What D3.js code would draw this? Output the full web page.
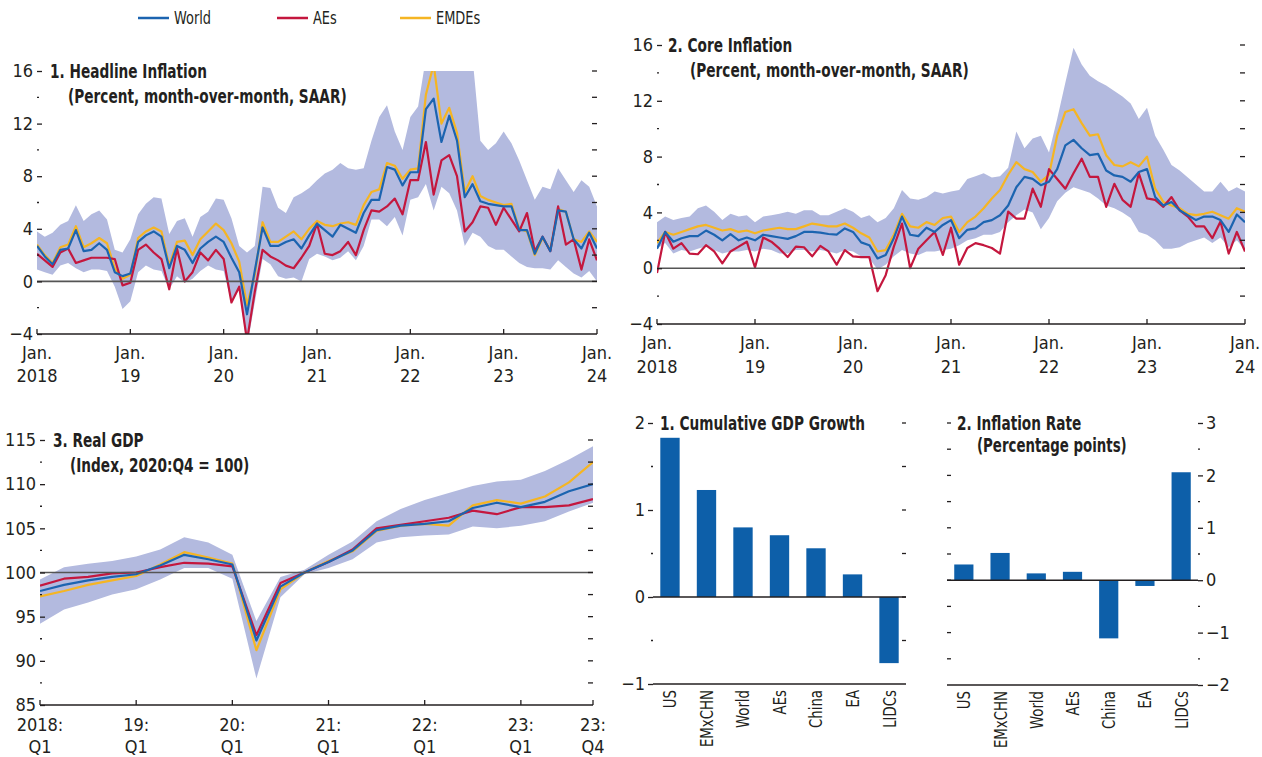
<!DOCTYPE html>
<html>
<head>
<meta charset="utf-8">
<script src="https://cdn.jsdelivr.net/npm/d3@7"></script>
<style>
  body { margin: 0; background: #fff; }
  svg text {
    font-family: "Liberation Sans Narrow", "Arial Narrow", "DejaVu Sans Condensed", sans-serif;
    font-stretch: condensed;
    fill: #231f20;
  }
</style>
</head>
<body>
<svg id="chart" width="1262" height="757"></svg>
<script>
// ---------- data ----------
const seriesNames = ["World", "AEs", "EMDEs"];
const seriesColors = { World: "#1c64b0", AEs: "#c4173e", EMDEs: "#f5b523" };
const bandColor = "#b3badf";
const barColor = "#0d5fa9";

// monthly, Jan. 2018 - Jan. 2024
const monthTickTop = ["Jan.", "Jan.", "Jan.", "Jan.", "Jan.", "Jan.", "Jan."];
const monthTickBottom = ["2018", "19", "20", "21", "22", "23", "24"];

const headlineWorld = [
  2.7, 1.9, 1.3, 2.4, 2.5, 3.9, 2.3, 2.4, 2.9, 2.4, 0.7, 0.4,
  0.6, 3.0, 3.5, 3.8, 3.4, 1.0, 2.7, 2.4, 1.4, 2.5, 3.0, 3.4,
  3.0, 1.8, 0.7, -2.5, 0.8, 4.1, 2.7, 2.7, 3.0, 3.2, 2.5, 3.5,
  4.4, 3.9, 3.4, 4.3, 4.0, 3.7, 5.2, 6.2, 6.2, 8.7, 8.5, 7.3,
  8.3, 8.3, 13.1, 13.9, 10.6, 12.6, 10.7, 6.4, 7.4, 6.1, 5.9, 5.8,
  5.7, 5.7, 3.9, 3.9, 2.1, 3.4, 2.3, 5.4, 5.3, 3.2, 2.5, 3.7,
  2.5,
];
const headlineAEs = [
  2.1, 1.6, 1.1, 2.2, 2.5, 1.4, 1.6, 1.8, 1.8, 1.8, 1.7, -0.3,
  -0.1, 2.4, 2.8, 2.2, 1.7, -0.6, 2.5, 0.0, 0.7, 2.2, 1.6, 2.4,
  1.7, -1.6, -0.4, -4.5, -0.8, 2.4, 1.9, 1.6, 1.2, 1.0, 1.8, 2.7,
  4.4, 2.1, 2.0, 2.3, 3.0, 2.0, 3.9, 5.4, 5.3, 5.7, 6.3, 5.1,
  7.7, 7.7, 10.6, 6.6, 9.2, 9.6, 8.0, 3.8, 4.5, 5.7, 5.6, 4.3,
  5.6, 4.7, 3.8, 5.2, 2.3, 3.4, 2.3, 5.7, 2.8, 3.2, 0.9, 3.2,
  1.6,
];
const headlineEMDEs = [
  2.8, 2.0, 1.4, 2.6, 2.8, 4.2, 2.6, 2.9, 3.3, 2.9, 1.0, 0.2,
  0.5, 3.3, 3.8, 4.1, 3.8, 1.2, 3.0, 3.1, 2.0, 3.2, 3.8, 4.4,
  3.9, 2.9, 1.5, -1.8, 0.5, 4.5, 3.0, 3.0, 3.4, 3.8, 3.2, 4.0,
  4.6, 4.3, 4.2, 4.4, 4.5, 4.3, 5.8, 6.8, 7.0, 9.0, 8.8, 7.8,
  8.5, 8.6, 14.2, 16.5, 12.0, 13.2, 11.3, 6.8, 8.0, 6.5, 6.2, 6.0,
  5.8, 5.9, 4.0, 3.8, 2.0, 3.3, 2.4, 5.5, 5.3, 3.2, 3.0, 3.8,
  3.0,
];
const headlineHigh = [
  3.8, 3.4, 3.7, 4.3, 4.6, 5.8, 4.6, 5.1, 5.4, 4.7, 2.4, 2.2,
  3.2, 5.1, 5.9, 6.4, 6.3, 3.6, 4.6, 4.8, 3.4, 4.9, 5.3, 6.3,
  6.2, 4.8, 2.7, 2.2, 2.7, 7.2, 7.1, 5.6, 5.2, 6.4, 6.7, 7.1,
  7.7, 8.2, 8.5, 9.0, 8.6, 8.5, 8.6, 10.7, 12.5, 13.4, 11.4, 10.0,
  12.5, 13.3, 17, 17, 17, 17, 17, 17, 17, 10.7, 10.0, 10.5,
  11.4, 10.5, 9.2, 7.7, 6.2, 7.2, 7.0, 8.6, 7.7, 6.8, 7.7, 7.2,
  5.7,
];
const headlineLow = [
  0.9, 0.7, 0.5, 1.2, 1.4, 1.0, 0.7, 0.9, 0.9, 0.8, -0.4, -2.1,
  -1.5, 0.7, 1.2, 0.9, 0.8, -0.6, 0.4, -0.1, 0.2, 0.8, 1.2, 0.9,
  0.8, -1.6, -0.6, -5, -1.6, 1.7, 1.3, 0.4, 0.2, 0.3, 0.0, 1.7,
  2.1, 1.9, 1.6, 1.8, 2.3, 1.6, 2.7, 4.7, 4.7, 4.2, 4.9, 3.5,
  6.2, 6.4, 7.4, 5.4, 7.2, 6.7, 5.4, 2.7, 3.7, 3.4, 2.7, 2.4,
  2.4, 1.9, 1.4, 1.1, 1.0, 1.0, 0.9, 1.6, 1.1, 0.6, 0.3, 0.8,
  0.0,
];

const coreWorld = [
  1.4, 2.6, 1.9, 2.15, 2.3, 2.3, 2.7, 2.4, 2.0, 2.45, 2.0, 2.2,
  2.0, 2.4, 2.3, 2.2, 2.1, 2.3, 2.6, 2.6, 2.55, 2.45, 2.4, 2.85,
  2.6, 1.85, 1.65, 0.7, 0.95, 2.15, 3.7, 2.4, 2.3, 2.9, 2.6, 3.1,
  3.45, 2.15, 2.75, 2.85, 3.3, 3.45, 3.8, 4.5, 5.8, 6.55, 6.4, 5.95,
  6.2, 7.1, 8.8, 9.2, 8.6, 8.1, 8.2, 7.0, 6.65, 6.55, 6.2, 6.9,
  7.1, 5.1, 4.5, 4.75, 4.15, 3.8, 3.45, 3.7, 3.7, 3.45, 2.6, 3.85,
  3.3,
];
const coreAEs = [
  -0.35, 2.6, 1.4, 1.8, 1.05, 1.0, 1.65, 1.2, 0.35, 1.2, 1.55, 1.9,
  0.05, 2.2, 1.9, 1.4, 0.8, 1.55, 1.5, 0.85, 1.6, 1.2, 0.25, 1.3,
  0.85, 0.8, 0.8, -1.65, -0.5, 1.55, 3.2, 0.0, 1.4, 2.0, 2.6, 0.95,
  2.9, 0.25, 1.45, 1.8, 1.65, 1.45, 1.05, 4.05, 3.55, 3.55, 5.7, 4.4,
  7.1, 6.4, 5.7, 6.8, 7.85, 6.55, 6.55, 4.4, 6.05, 4.9, 4.4, 6.8,
  5.0, 4.9, 4.4, 5.1, 4.15, 3.7, 3.0, 3.0, 2.15, 3.35, 1.05, 2.6,
  1.2,
];
const coreEMDEs = [
  1.8, 2.6, 2.4, 2.6, 2.8, 3.0, 3.1, 2.9, 2.7, 2.8, 2.6, 2.7,
  2.5, 2.7, 2.8, 2.9, 2.8, 2.8, 3.0, 3.2, 3.1, 3.0, 3.0, 3.2,
  2.9, 2.5, 2.2, 1.2, 1.3, 2.4, 3.9, 3.0, 2.9, 3.3, 3.1, 3.6,
  3.7, 2.6, 3.3, 3.7, 4.3, 5.0, 5.6, 6.7, 7.6, 7.1, 6.9, 6.2,
  6.7, 9.5, 11.2, 11.4, 10.4, 9.5, 9.6, 8.1, 7.4, 7.3, 7.6, 7.3,
  8.0, 5.7, 4.75, 4.5, 4.3, 3.9, 3.8, 3.9, 4.05, 3.8, 3.55, 4.3,
  4.05,
];
const coreHigh = [
  3.3, 3.7, 3.45, 3.6, 3.7, 4.3, 4.5, 4.05, 3.45, 3.9, 3.7, 3.8,
  3.3, 3.7, 3.8, 3.9, 4.05, 3.9, 4.15, 4.15, 3.8, 3.8, 4.05, 4.3,
  4.05, 3.6, 3.8, 3.3, 3.6, 4.3, 5.6, 5.0, 4.9, 5.1, 5.5, 5.35,
  5.5, 5.6, 6.4, 6.6, 6.8, 6.5, 6.6, 7.2, 9.8, 8.6, 9.3, 9.5,
  8.3, 10.7, 13.3, 15.8, 14.6, 13.8, 13.4, 13.1, 12.7, 12.3, 11.8, 10.7,
  11.5, 9.5, 8.5, 7.4, 7.0, 6.5, 6.0, 5.5, 5.5, 6.2, 5.5, 5.8,
  5.5,
];
const coreLow = [
  1.4, 1.8, 1.05, 1.3, 1.2, 1.4, 1.55, 1.3, 1.05, 1.2, 1.2, 1.3,
  1.2, 1.4, 1.3, 1.05, 1.05, 1.3, 1.3, 1.2, 1.3, 1.2, 1.05, 1.3,
  1.2, 0.85, 0.7, -0.1, 0.25, 0.85, 1.3, 1.05, 0.95, 1.2, 1.2, 1.3,
  1.4, 1.65, 2.0, 2.15, 2.4, 2.4, 2.6, 3.3, 3.8, 4.2, 4.0, 2.8,
  3.6, 4.8, 5.4, 5.8, 5.6, 5.4, 5.0, 4.5, 4.3, 4.0, 3.6, 2.6,
  2.4, 2.0, 1.4, 1.4, 1.5, 1.8, 2.0, 2.2, 1.8, 2.2, 1.5, 2.0,
  1.3,
];

// quarterly, 2018:Q1 - 2023:Q4
const quarterTickTop = ["2018:", "19:", "20:", "21:", "22:", "23:", "23:"];
const quarterTickBottom = ["Q1", "Q1", "Q1", "Q1", "Q1", "Q1", "Q4"];
const quarterTickIdx = [0, 4, 8, 12, 16, 20, 23];

const gdpWorld = [97.9, 98.6, 99.1, 99.5, 99.8, 100.8, 102.0, 101.5, 100.9, 92.3, 98.4, 100,
  101.2, 102.5, 104.8, 105.3, 105.5, 105.8, 107.3, 107.9, 107.4, 108.0, 109.2, 110.0];
const gdpAEs = [98.5, 99.3, 99.5, 99.9, 100.0, 100.6, 101.1, 101.0, 100.7, 92.9, 98.8, 100,
  101.2, 102.6, 105.0, 105.4, 105.8, 106.2, 107.0, 106.6, 107.4, 107.4, 107.6, 108.3];
const gdpEMDEs = [97.3, 97.9, 98.6, 99.1, 99.6, 100.9, 102.3, 101.7, 101.0, 91.2, 98.1, 100,
  101.3, 102.4, 104.7, 105.3, 105.5, 105.3, 107.6, 108.2, 107.8, 108.6, 110.2, 112.5];
const gdpHigh = [99.2, 100.6, 101.0, 101.3, 101.8, 102.6, 104.0, 103.4, 102.0, 94.5, 99.5, 100.3,
  102.0, 103.5, 105.8, 107.2, 108.2, 109.0, 109.8, 110.3, 110.5, 111.5, 112.8, 114.3];
const gdpLow = [94.2, 95.8, 96.6, 97.5, 98.1, 99.2, 100.5, 100.5, 99.3, 88.0, 97.2, 99.8,
  100.5, 101.5, 103.4, 104.0, 104.2, 104.3, 105.2, 105.0, 105.3, 105.8, 106.9, 107.9];

// bar panels
const barCategories = ["US", "EMxCHN", "World", "AEs", "China", "EA", "LIDCs"];
const gdpGrowth = [1.83, 1.23, 0.80, 0.71, 0.56, 0.26, -0.76];
const inflationRate = [0.30, 0.52, 0.13, 0.16, -1.11, -0.11, 2.06];

// ---------- drawing ----------
const svg = d3.select("#chart");
const ink = "#231f20";
const fmt = d3.format("");
const tickFont = 18;
const titleFont = 19;

// the original uses a condensed face; squeeze glyphs horizontally to get close
const squeeze = (sel, k) =>
  sel.each(function () {
    const w = this.getComputedTextLength();
    d3.select(this).attr("textLength", w * k).attr("lengthAdjust", "spacingAndGlyphs");
  });

const linePanel = (cfg) => {
  const g = svg.append("g").attr("class", cfg.id);
  const n = cfg.series.World.length;
  const x = d3.scaleLinear().domain([0, n - 1]).range([cfg.x0, cfg.x1]);
  const y = d3.scaleLinear().domain(cfg.yDomain).range([cfg.yBottom, cfg.yTop]);

  g.append("clipPath")
    .attr("id", cfg.id + "-clip")
    .append("rect")
    .attr("x", cfg.x0)
    .attr("y", cfg.yTop)
    .attr("width", cfg.x1 - cfg.x0)
    .attr("height", cfg.yBottom - cfg.yTop);

  const plot = g.append("g").attr("clip-path", `url(#${cfg.id}-clip)`);

  const area = d3
    .area()
    .x((d, i) => x(i))
    .y0((d) => y(d[0]))
    .y1((d) => y(d[1]));

  plot
    .append("path")
    .datum(d3.zip(cfg.low, cfg.high))
    .attr("fill", bandColor)
    .attr("d", area);

  // reference line
  g.append("line")
    .attr("x1", cfg.x0)
    .attr("x2", cfg.x1)
    .attr("y1", y(cfg.ref))
    .attr("y2", y(cfg.ref))
    .attr("stroke", "#555")
    .attr("stroke-width", 1.6);

  const line = d3
    .line()
    .x((d, i) => x(i))
    .y((d) => y(d));

  plot
    .selectAll(".series")
    .data(["EMDEs", "AEs", "World"])
    .join("path")
    .attr("class", "series")
    .attr("fill", "none")
    .attr("stroke", (d) => seriesColors[d])
    .attr("stroke-width", 2.2)
    .attr("stroke-linejoin", "round")
    .attr("d", (d) => line(cfg.series[d]));

  // left axis: labels with inward dashes
  const leftAxis = g
    .append("g")
    .attr("transform", `translate(${cfg.x0},0)`)
    .call(
      d3.axisLeft(y).tickValues(cfg.yMajor).tickSizeInner(-5).tickSizeOuter(0).tickPadding(4).tickFormat(fmt)
    );
  leftAxis.select(".domain").remove();
  leftAxis.selectAll("line").attr("stroke", ink).attr("stroke-width", 1.3);
  leftAxis.selectAll("text").attr("font-size", tickFont).attr("fill", ink);

  g.selectAll(".minorL")
    .data(cfg.yMinor)
    .join("line")
    .attr("x1", cfg.x0)
    .attr("x2", cfg.x0 + 2)
    .attr("y1", (d) => y(d))
    .attr("y2", (d) => y(d))
    .attr("stroke", ink)
    .attr("stroke-width", 1.3);

  // right side dashes
  g.selectAll(".tickR")
    .data(cfg.yMajor.concat(cfg.yMinor).filter((d) => d !== cfg.yDomain[0]))
    .join("line")
    .attr("x1", cfg.x1 - 5)
    .attr("x2", cfg.x1)
    .attr("y1", (d) => y(d))
    .attr("y2", (d) => y(d))
    .attr("stroke", ink)
    .attr("stroke-width", 1.3);

  // bottom axis
  g.append("line")
    .attr("x1", cfg.x0)
    .attr("x2", cfg.x1)
    .attr("y1", cfg.yBottom)
    .attr("y2", cfg.yBottom)
    .attr("stroke", ink)
    .attr("stroke-width", 1.6);

  g.selectAll(".tickB")
    .data(cfg.xTickIdx)
    .join("line")
    .attr("x1", (d) => x(d))
    .attr("x2", (d) => x(d))
    .attr("y1", cfg.yBottom)
    .attr("y2", cfg.yBottom - 5)
    .attr("stroke", ink)
    .attr("stroke-width", 1.3);

  g.selectAll(".xlab1")
    .data(cfg.xTickIdx)
    .join("text")
    .attr("x", (d) => x(d))
    .attr("y", cfg.yBottom + cfg.labelDy[0])
    .attr("text-anchor", "middle")
    .attr("font-size", tickFont)
    .text((d, i) => cfg.xTickTop[i]);

  g.selectAll(".xlab2")
    .data(cfg.xTickIdx)
    .join("text")
    .attr("x", (d) => x(d))
    .attr("y", cfg.yBottom + cfg.labelDy[1])
    .attr("text-anchor", "middle")
    .attr("font-size", tickFont)
    .text((d, i) => cfg.xTickBottom[i]);

  g.append("text")
    .attr("x", cfg.titleX)
    .attr("y", cfg.titleY)
    .attr("font-size", titleFont)
    .attr("font-weight", "bold")
    .text(cfg.title)
    .call(squeeze, 0.8);

  g.append("text")
    .attr("x", cfg.subX)
    .attr("y", cfg.titleY + 25)
    .attr("font-size", titleFont)
    .attr("font-weight", "bold")
    .text(cfg.subtitle)
    .call(squeeze, 0.8);
};

const monthTickIdx = [0, 12, 24, 36, 48, 60, 72];

linePanel({
  id: "headline",
  x0: 37, x1: 597, yTop: 71, yBottom: 334,
  yDomain: [-4, 16], yMajor: [16, 12, 8, 4, 0, -4], yMinor: [14, 10, 6, 2, -2], ref: 0,
  series: { World: headlineWorld, AEs: headlineAEs, EMDEs: headlineEMDEs },
  low: headlineLow, high: headlineHigh,
  xTickIdx: monthTickIdx, xTickTop: monthTickTop, xTickBottom: monthTickBottom, labelDy: [25, 48],
  title: "1. Headline Inflation", subtitle: "(Percent, month-over-month, SAAR)",
  titleX: 50, titleY: 78, subX: 68,
});

linePanel({
  id: "core",
  x0: 657, x1: 1245, yTop: 45, yBottom: 324,
  yDomain: [-4, 16], yMajor: [16, 12, 8, 4, 0, -4], yMinor: [14, 10, 6, 2, -2], ref: 0,
  series: { World: coreWorld, AEs: coreAEs, EMDEs: coreEMDEs },
  low: coreLow, high: coreHigh,
  xTickIdx: monthTickIdx, xTickTop: monthTickTop, xTickBottom: monthTickBottom, labelDy: [25, 49],
  title: "2. Core Inflation", subtitle: "(Percent, month-over-month, SAAR)",
  titleX: 668, titleY: 52, subX: 690,
});

linePanel({
  id: "gdp",
  x0: 40, x1: 593, yTop: 440, yBottom: 705,
  yDomain: [85, 115], yMajor: [115, 110, 105, 100, 95, 90, 85], yMinor: [112.5, 107.5, 102.5, 97.5, 92.5, 87.5], ref: 100,
  series: { World: gdpWorld, AEs: gdpAEs, EMDEs: gdpEMDEs },
  low: gdpLow, high: gdpHigh,
  xTickIdx: quarterTickIdx, xTickTop: quarterTickTop, xTickBottom: quarterTickBottom, labelDy: [26, 48],
  title: "3. Real GDP", subtitle: "(Index, 2020:Q4 = 100)",
  titleX: 53, titleY: 447, subX: 70,
});

const barPanel = (cfg) => {
  const g = svg.append("g").attr("class", cfg.id);
  const x = d3.scaleBand().domain(barCategories).range([cfg.x0, cfg.x1]).paddingInner(0.47).paddingOuter(0.2);
  const y = d3.scaleLinear().domain(cfg.yDomain).range([cfg.yBottom, cfg.yTop]);

  g.selectAll(".bar")
    .data(cfg.values)
    .join("rect")
    .attr("class", "bar")
    .attr("x", (d, i) => x(barCategories[i]))
    .attr("width", x.bandwidth())
    .attr("y", (d) => y(Math.max(0, d)))
    .attr("height", (d) => Math.abs(y(d) - y(0)))
    .attr("fill", barColor);

  g.append("line")
    .attr("x1", cfg.x0)
    .attr("x2", cfg.x1)
    .attr("y1", y(0))
    .attr("y2", y(0))
    .attr("stroke", ink)
    .attr("stroke-width", 1.5);

  g.append("line")
    .attr("x1", cfg.x0)
    .attr("x2", cfg.x1)
    .attr("y1", cfg.yBottom)
    .attr("y2", cfg.yBottom)
    .attr("stroke", ink)
    .attr("stroke-width", 1.6);

  // labelled side
  const labelled = cfg.side === "left" ? cfg.x0 : cfg.x1;
  const axis = (cfg.side === "left" ? d3.axisLeft(y) : d3.axisRight(y))
    .tickValues(cfg.yMajor)
    .tickSizeInner(5)
    .tickSizeOuter(0)
    .tickPadding(3)
    .tickFormat(fmt);
  const ax = g.append("g").attr("transform", `translate(${labelled},0)`).call(axis);
  ax.select(".domain").remove();
  ax.selectAll("line").attr("stroke", ink).attr("stroke-width", 1.3);
  ax.selectAll("text").attr("font-size", tickFont).attr("fill", ink);

  const dir = cfg.side === "left" ? -1 : 1;
  g.selectAll(".minorA")
    .data(cfg.yMinor)
    .join("line")
    .attr("x1", labelled)
    .attr("x2", labelled + dir * 2)
    .attr("y1", (d) => y(d))
    .attr("y2", (d) => y(d))
    .attr("stroke", ink)
    .attr("stroke-width", 1.3);

  // unlabelled side dashes
  const other = cfg.side === "left" ? cfg.x1 : cfg.x0;
  g.selectAll(".minorB")
    .data(cfg.yMajor.concat(cfg.yMinor).filter((d) => d !== cfg.yDomain[0]))
    .join("line")
    .attr("x1", other)
    .attr("x2", other + dir * 4)
    .attr("y1", (d) => y(d))
    .attr("y2", (d) => y(d))
    .attr("stroke", ink)
    .attr("stroke-width", 1.3);

  g.selectAll(".catLabel")
    .data(barCategories)
    .join("text")
    .attr("class", "catLabel")
    .attr("transform", (d) => `translate(${x(d) + x.bandwidth() / 2},${cfg.yBottom + 6}) rotate(-90)`)
    .attr("text-anchor", "end")
    .attr("dy", "0.35em")
    .attr("font-size", 18.5)
    .text((d) => d)
    .call(squeeze, 0.8);

  g.append("text")
    .attr("x", cfg.titleX)
    .attr("y", cfg.titleY)
    .attr("font-size", titleFont)
    .attr("font-weight", "bold")
    .text(cfg.title)
    .call(squeeze, 0.8);

  if (cfg.subtitle) {
    g.append("text")
      .attr("x", cfg.subX)
      .attr("y", cfg.titleY + 22)
      .attr("font-size", titleFont)
      .attr("font-weight", "bold")
      .text(cfg.subtitle)
      .call(squeeze, 0.78);
  }
};

barPanel({
  id: "bars1", side: "left",
  x0: 653, x1: 906, yTop: 423, yBottom: 684,
  yDomain: [-1, 2], yMajor: [2, 1, 0, -1], yMinor: [1.5, 0.5, -0.5],
  values: gdpGrowth,
  title: "1. Cumulative GDP Growth", titleX: 660, titleY: 430,
});

barPanel({
  id: "bars2", side: "right",
  x0: 947, x1: 1198, yTop: 423, yBottom: 685,
  yDomain: [-2, 3], yMajor: [3, 2, 1, 0, -1, -2], yMinor: [2.5, 1.5, 0.5, -0.5, -1.5],
  values: inflationRate,
  title: "2. Inflation Rate", subtitle: "(Percentage points)", titleX: 957, titleY: 430, subX: 977,
});

// legend
const legendX = { World: 138, AEs: 277, EMDEs: 400 };
const legend = svg
  .selectAll(".legend")
  .data(seriesNames)
  .join("g")
  .attr("class", "legend")
  .attr("transform", (d) => `translate(${legendX[d]},18)`);

legend
  .append("line")
  .attr("x1", 0)
  .attr("x2", 31)
  .attr("stroke", (d) => seriesColors[d])
  .attr("stroke-width", 2.5);

legend
  .append("text")
  .attr("x", 36)
  .attr("dy", "0.35em")
  .attr("font-size", 18)
  .text((d) => d)
  .call(squeeze, 0.8);
</script>
</body>
</html>
